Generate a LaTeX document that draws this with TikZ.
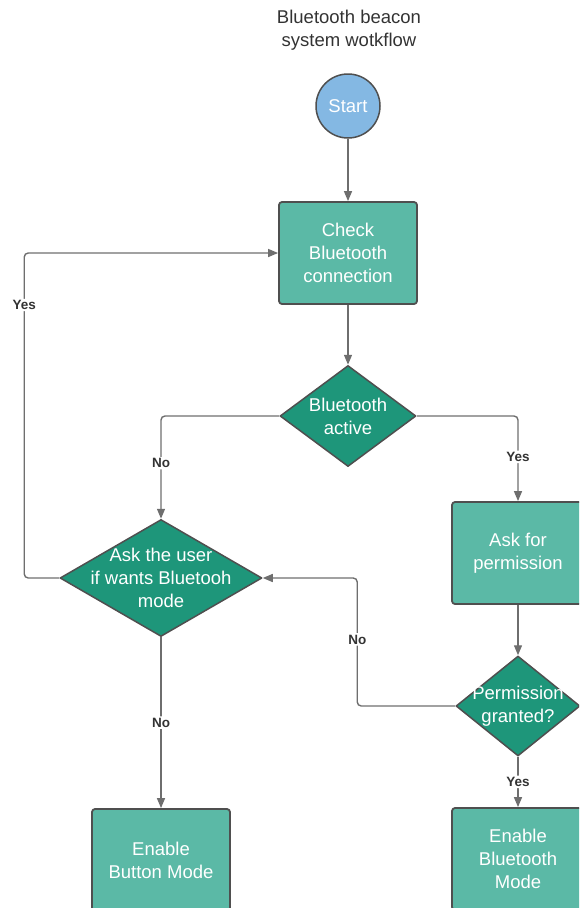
\documentclass[tikz,border=0pt]{standalone}
\usepackage{fontspec}
\setmainfont{Liberation Sans}
\usetikzlibrary{shapes.geometric, arrows.meta}
\definecolor{startblue}{HTML}{84B8E3}
\definecolor{boxteal}{HTML}{5BB9A6}
\definecolor{diateal}{HTML}{1E967A}
\definecolor{edgegray}{HTML}{4F4F4F}
\definecolor{linegray}{HTML}{6E6E6E}
\definecolor{labelgray}{HTML}{333333}
\newcommand{\bodyfont}{\fontsize{18.5}{23}\selectfont}
\newcommand{\labelfont}{\fontsize{13.5}{15}\selectfont\bfseries}

\begin{document}
\begin{tikzpicture}[x=1pt, y=-1pt, line join=round,
	box/.style={draw=edgegray, line width=1.8pt, fill=boxteal, rounded corners=3pt, minimum width=#1, minimum height=102pt, text=white, align=center, font=\bodyfont},
	box/.default=138pt,
	decision/.style 2 args={diamond, draw=edgegray, line width=1.5pt, fill=diateal, inner sep=0pt, minimum width=#1, minimum height=#2},
	dtext/.style={text=white, align=center, font=\bodyfont},
	flow/.style={draw=linegray, line width=1.4pt, rounded corners=4pt, -{Triangle[length=10pt, width=8pt]}},
	lbl/.style={fill=white, text=labelgray, font=\labelfont, inner sep=1.5pt}]
	\clip (0,0) rectangle (579,908);
	\node[text=labelgray, align=center, font=\bodyfont] (title) at (349,30) {Bluetooth beacon\\system wotkflow};
	\node[circle, draw=edgegray, line width=1.5pt, fill=startblue, minimum size=64pt, text=white, font=\bodyfont] (start) at (348,106) {Start};
	\node[box] (check) at (348,253) {Check\\Bluetooth\\connection};
	\node[decision={136pt}{101pt}] (active) at (348,416) {};
	\node[dtext] (activetext) at (active) {Bluetooth\\active};
	\node[decision={202pt}{117pt}] (ask) at (161,578) {};
	\node[dtext] (asktext) at (ask) {Ask the user\\if wants Bluetooh\\mode};
	\node[box=132pt] (perm) at (518,553) {Ask for\\permission};
	\node[decision={124pt}{100pt}] (granted) at (518,706) {};
	\node[dtext] (grantedtext) at (granted) {Permission\\granted?};
	\node[box] (button) at (161,860) {Enable\\Button Mode};
	\node[box=132pt] (btmode) at (518,859) {Enable\\Bluetooth\\Mode};

	\draw[flow] (start) -- (check);
	\draw[flow] (check) -- (active);
	\draw[flow] (active.west) -| node[lbl, pos=0.73] {No} (ask.north);
	\draw[flow] (active.east) -| node[lbl, pos=0.74] {Yes} (perm.north);
	\draw[flow] (ask.west) -- ++(-35,0) |- node[lbl, pos=0.42] {Yes} (check.west);
	\draw[flow] (perm) -- (granted);
	\draw[flow] (granted.west) -- ++(-98,0) |- node[lbl, pos=0.26] {No} (ask.east);
	\draw[flow] (ask.south) -- node[lbl] {No} (button.north);
	\draw[flow] (granted.south) -- node[lbl] {Yes} (btmode.north);
\end{tikzpicture}
\end{document}
